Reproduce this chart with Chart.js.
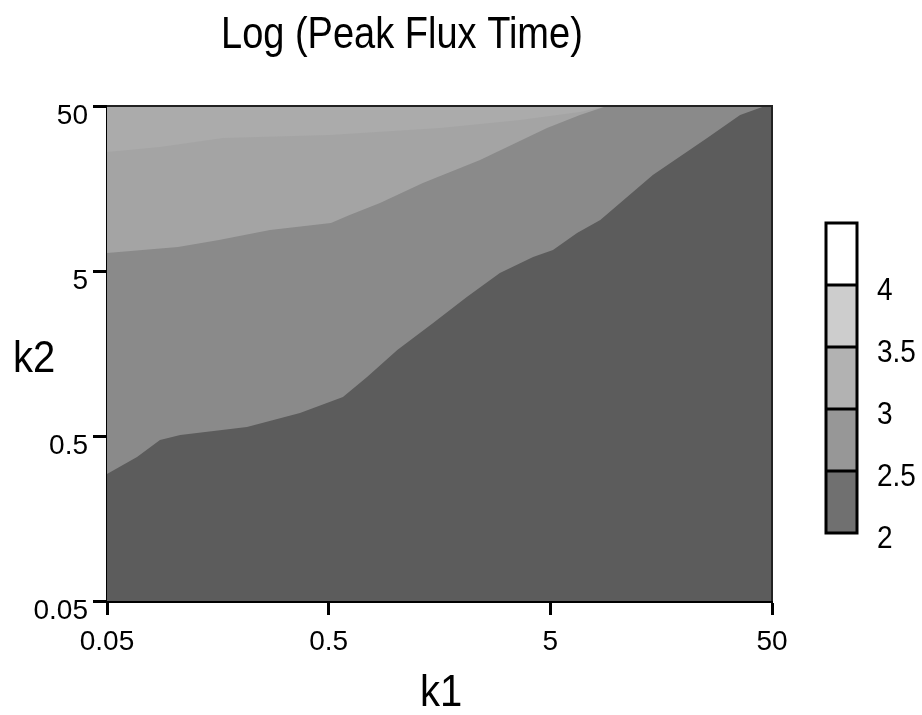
<!DOCTYPE html>
<html>
<head>
<meta charset="utf-8">
<script src="https://cdn.jsdelivr.net/npm/chart.js@4.4.0/dist/chart.umd.min.js"></script>
<style>
  html, body { margin: 0; background: #fff; }
  #wrap { width: 922px; height: 715px; }
</style>
</head>
<body>
<div id="wrap"><canvas id="c"></canvas></div>
<script>
// ── Data ──

const tickVals = [0.05, 0.5, 5, 50];
const tickLabels = ['0.05', '0.5', '5', '50'];

// contour boundaries (k1, k2)
const lowK1 = [0.05, 0.0683, 0.0867, 0.107, 0.214, 0.371, 0.58, 0.745, 1.02, 1.48, 2.10, 2.96, 4.18, 5.14, 6.6, 8.4, 14.5, 25.5, 35.9, 46.5, 50];
const lowK2 = [0.294, 0.373, 0.473, 0.507, 0.567, 0.689, 0.862, 1.14, 1.66, 2.42, 3.48, 4.86, 6.08, 6.70, 8.5, 10.2, 19.1, 32.0, 44.1, 50, 50];
const midK1 = [0.05, 0.1045, 0.16, 0.272, 0.512, 0.618, 0.852, 1.33, 2.41, 4.83, 6.8, 9.0, 50];
const midK2 = [6.43, 6.99, 7.71, 8.86, 9.77, 10.9, 12.9, 17.1, 23.5, 36.8, 44.1, 50, 50];
const topK1 = [0.05, 0.0867, 0.167, 0.507, 1.59, 3.65, 6.8, 9.0, 50];
const topK2 = [26.3, 28.2, 32.0, 33.4, 36.8, 41.1, 46.0, 50, 50];

// colour bar
const levels = [4.5, 4, 3.5, 3, 2.5, 2];
const levelLabels = ['4', '3.5', '3', '2.5', '2'];

// ── Styles ──

const FONT = '"Liberation Sans", Arial, Helvetica, sans-serif';
const bandColors = ['#ffffff', '#cdcdcd', '#b2b2b2', '#979797', '#707070'];
const regionColors = { dark: '#5c5c5c', mid: '#8a8a8a', light: '#a4a4a4', strip: '#ababab' };

const zip = (xs, ys) => xs.map((x, i) => ({ x, y: ys[i] }));

const region = (data, fill, color) => ({
  data, fill, backgroundColor: color,
  borderWidth: 0, pointRadius: 0, tension: 0,
});

// text a bit taller than the stock font, like the scan
const tallText = (ctx, text, x, y, sy) => {
  ctx.save();
  ctx.translate(x, y);
  ctx.scale(1, sy);
  ctx.fillText(text, 0, 0);
  ctx.restore();
};

// title, axis names, frame and colour bar
const decor = {
  id: 'decor',
  afterDraw(chart) {
    const { ctx, chartArea: a } = chart;
    ctx.save();
    ctx.fillStyle = '#000';
    ctx.textBaseline = 'alphabetic';

    ctx.font = `38px ${FONT}`;
    ctx.textAlign = 'left';
    tallText(ctx, 'Log (Peak Flux Time)', 221, 48, 1.15);

    ctx.font = `40px ${FONT}`;
    ctx.textAlign = 'center';
    tallText(ctx, 'k1', 441, 706, 1.1);
    ctx.textAlign = 'left';
    tallText(ctx, 'k2', 13, 372, 1.1);

    // thin top / right edge of the plot
    ctx.strokeStyle = '#222';
    ctx.lineWidth = 2;
    ctx.beginPath();
    ctx.moveTo(a.left, a.top);
    ctx.lineTo(a.right, a.top);
    ctx.lineTo(a.right, a.bottom);
    ctx.stroke();

    // colour bar
    const bx = 826, bw = 31, by = 223, bh = 62;
    const n = levels.length - 1;
    for (let i = 0; i < n; i++) {
      ctx.fillStyle = bandColors[i];
      ctx.fillRect(bx, by + i * bh, bw, bh);
    }
    ctx.strokeStyle = '#000';
    ctx.lineWidth = 3;
    ctx.strokeRect(bx, by, bw, bh * n);
    ctx.beginPath();
    for (let i = 1; i < n; i++) {
      ctx.moveTo(bx, by + i * bh);
      ctx.lineTo(bx + bw, by + i * bh);
    }
    ctx.stroke();

    ctx.fillStyle = '#000';
    ctx.font = `28px ${FONT}`;
    ctx.textAlign = 'left';
    ctx.textBaseline = 'alphabetic';
    levelLabels.forEach((t, i) => tallText(ctx, t, 877, by + (i + 1) * bh + 15, 1.1));
    ctx.restore();
  },
};

const axis = (extra) => ({
  type: 'logarithmic',
  min: tickVals[0],
  max: tickVals[tickVals.length - 1],
  afterBuildTicks: s => { s.ticks = tickVals.map(v => ({ value: v })); },
  ticks: {
    callback: (v, i) => tickLabels[i],
    color: '#000',
    font: { family: FONT, size: 28 },
    autoSkip: false,
    maxRotation: 0,
    ...extra.ticks,
  },
  grid: { drawOnChartArea: false, drawTicks: true, tickLength: 14, tickWidth: 3, tickColor: '#000' },
  border: { display: true, color: '#000', width: 3 },
  afterFit: extra.afterFit,
});

new Chart(document.getElementById('c'), {
  type: 'line',
  data: {
    datasets: [
      region(zip(lowK1, lowK2), 'start', regionColors.dark),
      region(zip(midK1, midK2), 'start', regionColors.mid),
      region(zip(topK1, topK2), 'end', regionColors.strip),
      region([{ x: tickVals[0], y: tickVals[3] }, { x: tickVals[3], y: tickVals[3] }], 'start', regionColors.light),
    ],
  },
  options: {
    responsive: true,
    maintainAspectRatio: false,
    animation: false,
    layout: { padding: { top: 106, right: 150, left: 0, bottom: 0 } },
    plugins: { legend: { display: false }, tooltip: { enabled: false } },
    scales: {
      x: axis({ ticks: { padding: 10 }, afterFit: s => { s.height = 114; } }),
      y: axis({ ticks: { padding: 5, labelOffset: 10 }, afterFit: s => { s.width = 107; } }),
    },
  },
  plugins: [decor],
});
</script>
</body>
</html>
